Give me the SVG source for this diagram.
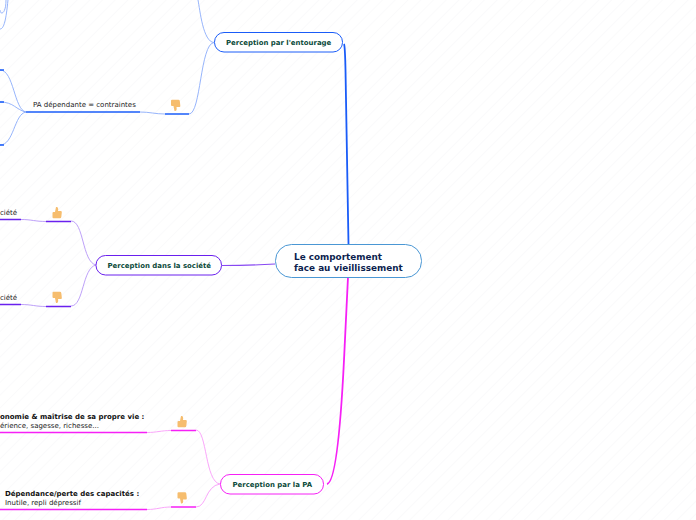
<svg xmlns="http://www.w3.org/2000/svg" width="696" height="520" viewBox="0 0 696 520">
<defs>
<pattern id="bg" width="9" height="9" patternUnits="userSpaceOnUse" patternTransform="rotate(-45)">
<rect width="9" height="9" fill="#ffffff"/><rect width="9" height="1" fill="#fafafb"/>
</pattern>
<g id="thumb">
<path d="M-1,-6.500 Q1.200,-7 1.200,-4.500 L1,-2.500 L4,-2.500 Q5,-2.500 4.800,-1 L4.300,3.500 Q4.100,4.800 3,4.800 L-3.500,4.800 Q-4.500,4.800 -4.500,3.800 L-4.500,-0.500 Q-4.500,-1.500 -3.500,-1.500 L-2,-1.500 Z" fill="#f6bd6e"/>
</g>
</defs>
<style>
text{font-family:"DejaVu Sans",Verdana,sans-serif;fill:#222}
.t{font-size:7px}
.b{font-size:7px;font-weight:bold;fill:#111}
.n{font-size:6.950px;font-weight:bold;fill:#0b4a3a}
.root{font-size:8.850px;font-weight:bold;fill:#0d1f4f}
.thin,.thick{fill:none}
.thin{stroke-width:.9}
.thick{stroke-width:1.5}
.bl{stroke:#1a5cf8}.blt{stroke:#8aabfa}
.vi{stroke:#6a20ee}.vit{stroke:#b595f7}
.ma{stroke:#f620f6}.mat{stroke:#f99cf9}
</style>
<rect width="696" height="520" fill="url(#bg)"/>
<g id="connectors">
<path class="bl" d="M344,44 Q345,46 345.500,70 L348.500,244" fill="none" stroke-width="1.800"/>
<path class="ma" d="M348,277 L344,360 Q338,482 327,484" fill="none" stroke-width="1.800"/>
<path d="M222,265.500 Q250,265.500 275,264" fill="none" stroke="#8748f2" stroke-width="1.200"/>
<path class="thin blt" d="M214,42.500 C203,42 200,10 198,0"/>
<path class="thin blt" d="M214,42.500 C200,44 201,114 189,114"/>
<path class="thick bl" d="M165,114 H189"/>
<path class="thin blt" d="M140,112 C150,112 155,114 165,114"/>
<path class="thick bl" d="M26,112 H140"/>
<path class="thin blt" d="M26,112 C14,110 14,70 0,70"/>
<path class="thin blt" d="M26,112 C16,110 14,102 0,102"/>
<path class="thin blt" d="M26,112 C14,114 14,145 0,145"/>
<path class="thick bl" d="M0,70 H4M0,102 H4M0,145 H4"/>
<path class="thin blt" d="M6,0 C6,15 0,15 0,10M8,0 C6,20 4,29 0,29"/>
<path class="thin vit" d="M96,265 C82,262 84,221 71,221"/>
<path class="thin vit" d="M96,265 C82,268 84,306 71,306"/>
<path class="thick vi" d="M46,221.500 H71M46,306.500 H71"/>
<path class="thin vit" d="M21,219.500 C32,219.500 35,221.500 46,221.500M21,304.500 C32,304.500 35,306.500 46,306.500"/>
<path class="thick vi" d="M0,219.500 H21M0,304.500 H21"/>
<path class="thin mat" d="M220,484 C205,482 207,430 196,430"/>
<path class="thin mat" d="M220,484 C205,486 207,507 196,507"/>
<path class="thick ma" d="M171,430.500 H196M171,507 H196"/>
<path class="thin mat" d="M147,432.500 C157,432.500 161,430.500 171,430.500M147,509.500 C157,509.500 161,507 171,507"/>
<path class="thick ma" d="M0,432.500 H147M0,509.500 H147"/>
</g>
<g id="root"><rect x="275.500" y="244.500" width="146" height="33" rx="16" fill="#fff" stroke="#4a97d4"/>
<text class="root" x="294" y="259.500">Le comportement</text><text class="root" x="294" y="270.500">face au vieillissement</text></g>
<g id="entourage"><rect x="214.500" y="32.500" width="128" height="19.500" rx="9.500" fill="#fff" stroke="#1a5cf8"/>
<text class="n" x="226" y="45">Perception par l'entourage</text></g>
<g id="societe"><rect x="96" y="255.500" width="125.500" height="19.500" rx="9.500" fill="#fff" stroke="#6a20ee"/>
<text class="n" x="107.500" y="268">Perception dans la société</text></g>
<g id="pa"><rect x="220.500" y="474.500" width="103" height="19.500" rx="9.500" fill="#fff" stroke="#f620f6"/>
<text class="n" x="232.500" y="487">Perception par la PA</text></g>
<g id="contraintes"><text class="t" x="33" y="107">PA dépendante = contraintes</text></g>
<g id="neg1"><use href="#thumb" transform="translate(175.500,104.500) scale(1,-1)"/></g>
<g id="soc1"><text class="t" x="0" y="215">ciété</text></g>
<g id="pos2"><use href="#thumb" transform="translate(57,213.500)"/></g>
<g id="soc2"><text class="t" x="0" y="300">ciété</text></g>
<g id="neg2"><use href="#thumb" transform="translate(57,296.500) scale(1,-1)"/></g>
<g id="auto"><text class="b" x="0" y="419">onomie &amp; maîtrise de sa propre vie :</text><text class="t" x="0" y="428">érience, sagesse, richesse...</text></g>
<g id="pos3"><use href="#thumb" transform="translate(182,422.500)"/></g>
<g id="dep"><text class="b" x="5" y="496">Dépendance/perte des capacités :</text><text class="t" x="5" y="505">Inutile, repli dépressif</text></g>
<g id="neg3"><use href="#thumb" transform="translate(182,497) scale(1,-1)"/></g>
</svg>
